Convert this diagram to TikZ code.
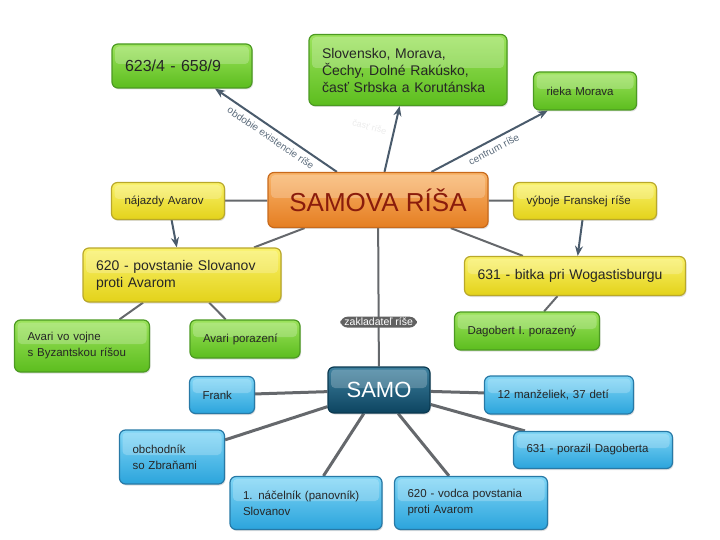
\documentclass[tikz,border=0pt]{standalone}
\usepackage{fontspec}
\setmainfont{Liberation Sans}
\usetikzlibrary{arrows.meta,shadows,backgrounds}
\newdimen\unitsize
\setlength{\unitsize}{1pt}
\definecolor{grtop}{HTML}{9CE35C}
\definecolor{grbot}{HTML}{5CBD1E}
\definecolor{grline}{HTML}{4C9A22}
\definecolor{yetop}{HTML}{FAF26A}
\definecolor{yebot}{HTML}{E3D21A}
\definecolor{yeline}{HTML}{B9A82A}
\definecolor{ortop}{HTML}{F9B56A}
\definecolor{orbot}{HTML}{E57E22}
\definecolor{orline}{HTML}{C86A1C}
\definecolor{bltop}{HTML}{80D6F6}
\definecolor{blbot}{HTML}{2BA4DC}
\definecolor{blline}{HTML}{2779A6}
\definecolor{satop}{HTML}{3D809E}
\definecolor{sabot}{HTML}{0D4460}
\definecolor{saline}{HTML}{0B3950}
\definecolor{linkgray}{HTML}{65686C}
\definecolor{arrowblue}{HTML}{4A5B6C}
\definecolor{labelgray}{HTML}{5A6A7A}
\definecolor{titlered}{HTML}{8A1C0C}

\begin{document}
\begin{tikzpicture}[x=\unitsize,y=-\unitsize,
  gloss/.style={path picture={\fill[white,opacity=0.22,rounded corners=4pt]
    ([xshift=3pt,yshift=-2.5pt]path picture bounding box.north west) rectangle
    ([xshift=-3pt,yshift=2pt]path picture bounding box.east);}},
  shade box/.style={rounded corners=6pt,draw,line width=1.2pt,gloss,
    drop shadow={opacity=0.25,shadow xshift=1pt,shadow yshift=-1.5pt}},
  box/.style={shade box,align=left,inner xsep=13pt,inner ysep=3pt,text=black!85},
  greenbox/.style={box,top color=grtop,bottom color=grbot,draw=grline},
  yellowbox/.style={box,top color=yetop,bottom color=yebot,draw=yeline},
  bluebox/.style={box,top color=bltop,bottom color=blbot,draw=blline},
  small/.style={font=\fontsize{11.5}{16}\selectfont},
  mid/.style={font=\fontsize{14}{17}\selectfont},
  link/.style={draw=linkgray,line width=2pt},
  samolink/.style={draw=linkgray,line width=3pt},
  arrowlink/.style={draw=arrowblue,line width=2pt,-{Stealth[length=10pt,width=8pt]}},
  edgelabel/.style={font=\fontsize{10}{11}\selectfont,text=labelgray,sloped,below=1pt},
  pill/.style={fill=black!62,text=white,rounded corners=7pt,inner xsep=4pt,inner ysep=1.5pt,
    font=\fontsize{10.5}{11}\selectfont}]
\useasboundingbox (0,0) rectangle (720,540);

% upper half
\node[greenbox,text width=114pt,minimum height=44pt,font=\fontsize{16}{19}\selectfont] (obdobie) at (182,66) {623/4 - 658/9};
\node[greenbox,text width=172pt,minimum height=71pt,font=\fontsize{14}{17}\selectfont] (uzemie) at (408,70)
  {Slovensko, Morava,\\Čechy, Dolné Rakúsko,\\časť Srbska a Korutánska};
\node[greenbox,small,text width=77pt,minimum height=38pt] (rieka) at (585,91) {rieka Morava};
\node[shade box,draw=orline,top color=ortop,bottom color=orbot,
  minimum width=220pt,minimum height=55pt,text=titlered,font=\fontsize{26}{30}\selectfont] (risa) at (378,200) {SAMOVA RÍŠA};
\node[yellowbox,small,text width=87pt,minimum height=37pt] (najazdy) at (168,201) {nájazdy Avarov};
\node[yellowbox,small,text width=117pt,minimum height=37pt] (vyboje) at (585,201) {výboje Franskej ríše};
\node[yellowbox,mid,text width=172pt,minimum height=54pt] (povstanie) at (182,275) {620 - povstanie Slovanov\\proti Avarom};
\node[yellowbox,mid,text width=195pt,minimum height=39pt] (bitka) at (575,276) {631 - bitka pri Wogastisburgu};
\node[greenbox,small,text width=109pt,minimum height=52pt] (byzancia) at (82,346) {Avari vo vojne\\s Byzantskou ríšou};
\node[greenbox,small,text width=84pt,minimum height=38pt] (porazeni) at (245,339) {Avari porazení};
\node[greenbox,small,text width=119pt,minimum height=38pt] (dagobert) at (527,331) {Dagobert I. porazený};

% lower half
\node[shade box,draw=saline,top color=satop,bottom color=sabot,
  minimum width=102pt,minimum height=46pt,text=white,font=\fontsize{22}{26}\selectfont] (samo) at (379,390) {SAMO};
\node[bluebox,small,text width=39pt,minimum height=37pt] (frank) at (222,395) {Frank};
\node[bluebox,small,text width=123pt,minimum height=38pt] (manzelky) at (559,395) {12 manželiek, 37 detí};
\node[bluebox,small,text width=79pt,minimum height=54pt] (obchodnik) at (172,457) {obchodník\\so Zbraňami};
\node[bluebox,small,text width=133pt,minimum height=37pt] (vitaz) at (593,450) {631 - porazil Dagoberta};
\node[bluebox,small,text width=126pt,minimum height=53pt] (nacelnik) at (306,503) {1. náčelník (panovník)\\Slovanov};
\node[bluebox,small,text width=127pt,minimum height=53pt] (vodca) at (471,503) {620 - vodca povstania\\proti Avarom};

\begin{scope}[on background layer]
\draw[arrowlink] (risa) -- node[edgelabel]{obdobie existencie ríše} (obdobie);
\draw[arrowlink] (risa) -- node[pos=0.6,anchor=east,xshift=-3pt,rotate=-15,
  font=\fontsize{9}{10}\selectfont,text=black!8]{časť ríše} (uzemie);
\draw[arrowlink] (risa) -- node[edgelabel]{centrum ríše} (rieka);
\draw[arrowlink] (najazdy) -- (povstanie);
\draw[arrowlink] (vyboje) -- (bitka);
\foreach \src/\tgt in {risa/najazdy,risa/vyboje,risa/povstanie,risa/bitka,
  povstanie/byzancia,povstanie/porazeni,bitka/dagobert}{
  \draw[link] (\src) -- (\tgt);
}
\draw[link] (risa) -- node[pill,pos=0.68]{zakladateľ ríše} (samo);
\foreach \tgt in {frank,manzelky,obchodnik,vitaz,nacelnik,vodca}{
  \draw[samolink] (samo) -- (\tgt);
}
\end{scope}
\end{tikzpicture}
\end{document}
